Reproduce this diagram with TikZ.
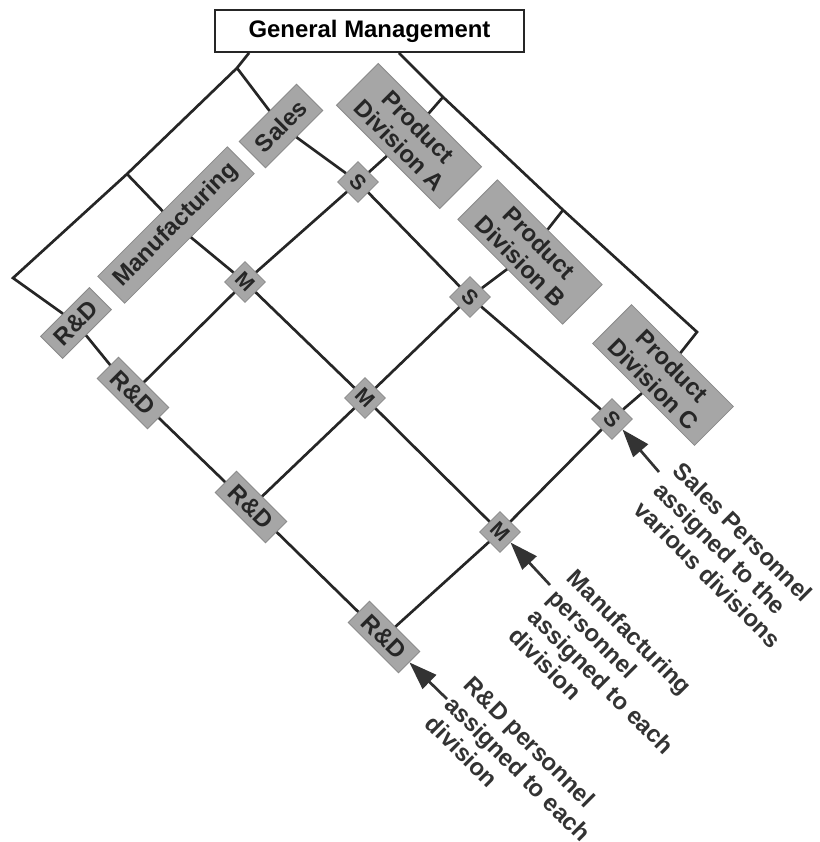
\documentclass[tikz,border=0pt]{standalone}
\usepackage{fontspec}
\setmainfont{Liberation Sans}
\usepackage{xcolor}
\usetikzlibrary{arrows.meta}
\definecolor{ink}{HTML}{262626}
\definecolor{slab}{HTML}{A6A6A6}
\definecolor{slabedge}{HTML}{8A8A8A}
\definecolor{note}{HTML}{333333}

\begin{document}
\begin{tikzpicture}[
	head/.style={draw=ink,line width=1.3pt,fill=white,minimum width=7.725cm,minimum height=1.05cm,font=\fontsize{17}{19}\selectfont\bfseries},
	slabbox/.style={fill=slab,draw=slabedge,line width=0.6pt,inner sep=1pt,text=ink,align=center,font=\fontsize{17}{18.5}\selectfont\bfseries},
	cell/.style={slabbox,rotate=-45,minimum width=0.72cm,minimum height=0.72cm,font=\fontsize{15}{15}\selectfont\bfseries},
	link/.style={draw=ink,line width=1.9pt},
	pointer/.style={draw=note,line width=1.9pt,-{Triangle[length=0.7cm,width=0.48cm]}},
	remark/.style={anchor=north west,rotate=-45,inner sep=0pt,align=left,text=note,font=\fontsize{17}{19.5}\selectfont\bfseries},
	]
		\begin{scope}[x=0.025cm,y=-0.025cm]
			\useasboundingbox (0,0) rectangle (820,842);
			\node[head] (gm) at (369.5,31) {General Management};
			%functions
			\node[slabbox,rotate=45,minimum width=1.725cm,minimum height=0.775cm] (rd) at (76,323) {R\&D};
			\node[slabbox,rotate=45,minimum width=4.575cm,minimum height=0.95cm] (mfg) at (176,225) {Manufacturing};
			\node[slabbox,rotate=45,minimum width=2.025cm,minimum height=0.925cm] (sales) at (281,126) {Sales};
			%divisions
			\node[slabbox,rotate=-45,minimum width=3.65cm,minimum height=1.475cm] (diva) at (409,136) {Product\\Division A};
			\node[slabbox,rotate=-45,minimum width=3.7cm,minimum height=1.4cm] (divb) at (530,252) {Product\\Division B};
			\node[slabbox,rotate=-45,minimum width=3.6cm,minimum height=1.375cm] (divc) at (663,375) {Product\\Division C};
			%R&D in each division
			\node[slabbox,rotate=-45,minimum width=1.775cm,minimum height=0.75cm] (rda) at (133,393) {R\&D};
			\node[slabbox,rotate=-45,minimum width=1.775cm,minimum height=0.75cm] (rdb) at (251,507) {R\&D};
			\node[slabbox,rotate=-45,minimum width=1.775cm,minimum height=0.75cm] (rdc) at (384,637) {R\&D};
			%manufacturing and sales cells
			\node[cell] (ma) at (245,282) {M};
			\node[cell] (mb) at (365,398) {M};
			\node[cell] (mc) at (500,532) {M};
			\node[cell] (sa) at (358,182) {S};
			\node[cell] (sb) at (470,297) {S};
			\node[cell] (sc) at (612,419) {S};
			%bracket corners
			\coordinate (la) at (237,68);
			\coordinate (lb) at (127,174);
			\coordinate (lc) at (13,278);
			\coordinate (ra) at (443,97);
			\coordinate (rb) at (563,210);
			\coordinate (rc) at (697,332);
			%lines
			\draw[link] ([xshift=0.875cm]gm.south west) -- (la) -- (lb) -- (lc) -- (rd) -- (rda) -- (rdb) -- (rdc);
			\draw[link] ([xshift=-3.15cm]gm.south east) -- (ra) -- (rb) -- (rc) -- (divc) -- (sc) -- (mc) -- (rdc);
			\draw[link] (la) -- (sales) -- (sa) -- (sb) -- (sc);
			\draw[link] (lb) -- (mfg) -- (ma) -- (mb) -- (mc);
			\draw[link] (ra) -- (diva) -- (sa) -- (ma) -- (rda);
			\draw[link] (rb) -- (divb) -- (sb) -- (mb) -- (rdb);
			%notes
			\node[remark] (salesnote) at (684,460) {Sales Personnel\\assigned to the\\various divisions};
			\node[remark] (mfgnote) at (578,567) {Manufacturing\\personnel\\assigned to each\\division};
			\node[remark] (rdnote) at (475,674) {R\&D personnel\\assigned to each\\division};
			\coordinate (st) at (659,472);
			\coordinate (mt) at (550,585);
			\coordinate (rt) at (447,699);
			\draw[pointer] (st) -- (sc.east);
			\draw[pointer] (mt) -- (mc.east);
			\draw[pointer] (rt) -- (rdc.east);
		\end{scope}
	\end{tikzpicture}
\end{document}
